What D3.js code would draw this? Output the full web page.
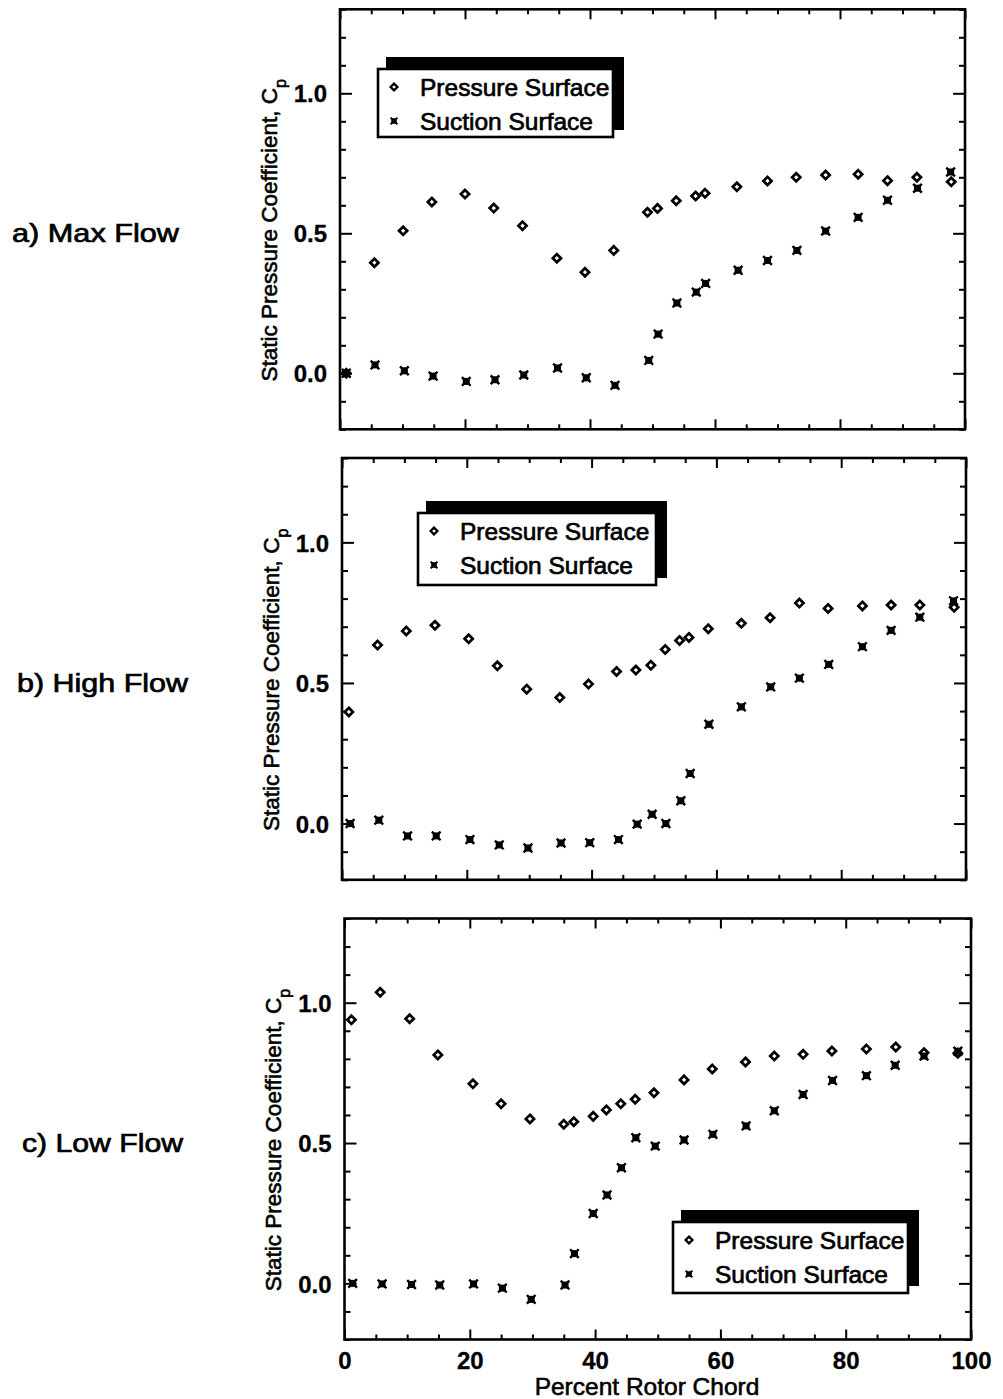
<!DOCTYPE html>
<html>
<head>
<meta charset="utf-8">
<script src="https://cdn.jsdelivr.net/npm/d3@7"></script>
<style>
  html, body { margin: 0; padding: 0; background: #fff; }
  svg { display: block; }
  text { font-family: "Liberation Sans", Arial, Helvetica, sans-serif; fill: #000; }
</style>
</head>
<body>
<svg id="chart" width="1003" height="1399"></svg>
<script>
// Static pressure coefficient Cp along the rotor chord, three flow conditions.
// Each series is a list of [percent chord, Cp].

const seriesNames = ["Pressure Surface", "Suction Surface"];
const panelTitles = ["a) Max Flow", "b) High Flow", "c) Low Flow"];

const maxFlowPressure = [
  [1.0, 0.000], [5.5, 0.395], [10.1, 0.509], [14.7, 0.612], [20.0, 0.640], [24.6, 0.590],
  [29.2, 0.527], [34.7, 0.411], [39.2, 0.361], [43.8, 0.439], [49.2, 0.575], [50.8, 0.589],
  [53.8, 0.616], [56.9, 0.633], [58.4, 0.643], [63.5, 0.666], [68.4, 0.687], [73.0, 0.700],
  [77.7, 0.708], [82.9, 0.711], [87.6, 0.688], [92.3, 0.700], [97.8, 0.684]
];
const maxFlowSuction = [
  [1.0, 0.000], [5.6, 0.030], [10.3, 0.009], [14.9, -0.010], [20.2, -0.029], [24.8, -0.023],
  [29.4, -0.006], [34.8, 0.019], [39.4, -0.016], [44.0, -0.043], [49.4, 0.046], [50.9, 0.140],
  [53.9, 0.251], [57.0, 0.290], [58.5, 0.321], [63.7, 0.368], [68.4, 0.403], [73.1, 0.439],
  [77.7, 0.508], [82.9, 0.557], [87.6, 0.618], [92.4, 0.661], [97.7, 0.719]
];

const highFlowPressure = [
  [1.1, 0.397], [5.7, 0.635], [10.3, 0.685], [14.9, 0.705], [20.3, 0.657], [24.9, 0.561],
  [29.6, 0.478], [34.9, 0.448], [39.5, 0.496], [44.0, 0.541], [47.1, 0.546], [49.5, 0.563],
  [51.8, 0.619], [54.1, 0.651], [55.6, 0.662], [58.7, 0.693], [64.0, 0.712], [68.6, 0.732],
  [73.3, 0.784], [77.9, 0.765], [83.4, 0.774], [88.0, 0.777], [92.6, 0.777], [98.1, 0.769]
];
const highFlowSuction = [
  [1.3, 0.000], [5.9, 0.012], [10.5, -0.044], [15.1, -0.044], [20.5, -0.057], [25.2, -0.076],
  [29.8, -0.087], [35.1, -0.069], [39.7, -0.068], [44.3, -0.057], [47.3, -0.002], [49.7, 0.033],
  [51.9, 0.000], [54.3, 0.081], [55.8, 0.178], [58.8, 0.353], [64.0, 0.415], [68.7, 0.486],
  [73.3, 0.517], [78.0, 0.566], [83.4, 0.629], [88.0, 0.687], [92.6, 0.734], [98.0, 0.792]
];

const lowFlowPressure = [
  [1.1, 0.939], [5.7, 1.037], [10.4, 0.943], [14.9, 0.814], [20.5, 0.711], [25.0, 0.640],
  [29.6, 0.586], [35.0, 0.567], [36.6, 0.576], [39.7, 0.595], [41.8, 0.618], [44.1, 0.640],
  [46.4, 0.656], [49.4, 0.679], [54.2, 0.725], [58.7, 0.764], [64.0, 0.789], [68.6, 0.810],
  [73.2, 0.816], [77.8, 0.828], [83.3, 0.835], [88.0, 0.842], [92.5, 0.822], [97.9, 0.820]
];
const lowFlowSuction = [
  [1.3, 0.000], [6.0, -0.002], [10.7, -0.004], [15.2, -0.006], [20.6, -0.002], [25.2, -0.017],
  [29.8, -0.057], [35.2, -0.006], [36.7, 0.106], [39.7, 0.249], [41.9, 0.315], [44.2, 0.412],
  [46.5, 0.519], [49.6, 0.489], [54.2, 0.511], [58.8, 0.531], [64.1, 0.561], [68.6, 0.615],
  [73.2, 0.673], [77.9, 0.723], [83.3, 0.740], [87.9, 0.777], [92.5, 0.810], [97.9, 0.827]
];

const xMajorTicks = [0, 20, 40, 60, 80, 100];
const xTickLabels = ["0", "20", "40", "60", "80", "100"];
const yMajorTicks = [0, 0.5, 1.0];
const yTickLabels = ["0.0", "0.5", "1.0"];
const xDomain = [0, 100];
const yDomain = [-0.2, 1.3];
const xAxisTitle = "Percent Rotor Chord";
const yAxisTitle = "Static Pressure Coefficient, ";

// Frame placement of each panel and of its legend box
const panels = [
  { title: panelTitles[0], pressure: maxFlowPressure, suction: maxFlowSuction,
    frame: { left: 340, right: 965, top: 9.3, bottom: 429.3 }, titleX: 12, titleW: 167,
    legend: { x: 378, y: 69, w: 235, h: 68 }, xLabels: false },
  { title: panelTitles[1], pressure: highFlowPressure, suction: highFlowSuction,
    frame: { left: 342, right: 966, top: 458, bottom: 879.8 }, titleX: 17, titleW: 171,
    legend: { x: 418, y: 513, w: 238, h: 72 }, xLabels: false },
  { title: panelTitles[2], pressure: lowFlowPressure, suction: lowFlowSuction,
    frame: { left: 344.5, right: 971, top: 918.5, bottom: 1339.5 }, titleX: 22, titleW: 161,
    legend: { x: 673, y: 1222, w: 235, h: 71 }, xLabels: true }
];

const svg = d3.select("#chart");
svg.append("rect").attr("width", 1003).attr("height", 1399).attr("fill", "#fff");

// Marker shapes: open diamond and a filled square crossed by an X
function diamondPath(r) {
  return `M0,${-r}L${r},0L0,${r}L${-r},0Z`;
}
function drawSuctionMark(g, s, w) {
  g.append("rect").attr("x", -s / 2).attr("y", -s / 2).attr("width", s).attr("height", s)
    .attr("fill", "#000");
  const c = s * 0.62;
  g.append("path").attr("d", `M${-c},${-c}L${c},${c}M${-c},${c}L${c},${-c}`)
    .attr("stroke", "#000").attr("stroke-width", w);
}
function drawPressureMark(g, r, w) {
  g.append("path").attr("d", diamondPath(r))
    .attr("fill", "#fff").attr("stroke", "#000").attr("stroke-width", w);
}

const tickFont = (sel) => sel.attr("font-size", 24).attr("font-weight", "bold")
  .attr("font-family", "'Liberation Sans', Arial, sans-serif")
  .attr("stroke", "#000").attr("stroke-width", 0.3);

panels.forEach((p) => {
  const f = p.frame;
  const x = d3.scaleLinear().domain(xDomain).range([f.left, f.right]);
  const y = d3.scaleLinear().domain(yDomain).range([f.bottom, f.top]);
  const g = svg.append("g");

  const yMinor = d3.range(-0.2, 1.3001, 0.1).map(v => +v.toFixed(1)).filter(v => !yMajorTicks.includes(v));
  const xMinor = d3.range(0, 100.001, 5).filter(v => !xMajorTicks.includes(v));

  const styleAxis = (sel) => {
    sel.select(".domain").remove();
    sel.selectAll(".tick line").attr("stroke", "#000").attr("stroke-width", 2);
  };

  // left / right ticks, pointing into the plot
  g.append("g").attr("transform", `translate(${f.left},0)`)
    .call(d3.axisLeft(y).tickValues(yMinor).tickSize(-6).tickFormat(""))
    .call(styleAxis);
  g.append("g").attr("transform", `translate(${f.left},0)`)
    .call(d3.axisLeft(y).tickValues(yMajorTicks).tickSize(-12).tickPadding(13)
      .tickFormat((d, i) => yTickLabels[i]))
    .call(styleAxis)
    .call(a => a.selectAll("text").call(tickFont).attr("dy", "0.36em"));
  g.append("g").attr("transform", `translate(${f.right},0)`)
    .call(d3.axisRight(y).tickValues(yMinor).tickSize(-6).tickFormat(""))
    .call(styleAxis);
  g.append("g").attr("transform", `translate(${f.right},0)`)
    .call(d3.axisRight(y).tickValues(yMajorTicks).tickSize(-12).tickFormat(""))
    .call(styleAxis);

  // top / bottom ticks
  g.append("g").attr("transform", `translate(0,${f.bottom})`)
    .call(d3.axisBottom(x).tickValues(xMinor).tickSize(-5).tickFormat(""))
    .call(styleAxis);
  g.append("g").attr("transform", `translate(0,${f.bottom})`)
    .call(d3.axisBottom(x).tickValues(xMajorTicks).tickSize(-10).tickPadding(12)
      .tickFormat((d, i) => p.xLabels ? xTickLabels[i] : ""))
    .call(styleAxis)
    .call(a => a.selectAll("text").call(tickFont).attr("dy", "0.72em"));
  g.append("g").attr("transform", `translate(0,${f.top})`)
    .call(d3.axisTop(x).tickValues(xMinor).tickSize(-5).tickFormat(""))
    .call(styleAxis);
  g.append("g").attr("transform", `translate(0,${f.top})`)
    .call(d3.axisTop(x).tickValues(xMajorTicks).tickSize(-10).tickFormat(""))
    .call(styleAxis);

  // frame
  g.append("rect")
    .attr("x", f.left).attr("y", f.top)
    .attr("width", f.right - f.left).attr("height", f.bottom - f.top)
    .attr("fill", "none").attr("stroke", "#000").attr("stroke-width", 2.6);

  // data marks
  const pts = g.append("g");
  p.pressure.forEach(d => {
    drawPressureMark(pts.append("g").attr("transform", `translate(${x(d[0])},${y(d[1])})`), 4.1, 2.7);
  });
  p.suction.forEach(d => {
    drawSuctionMark(pts.append("g").attr("transform", `translate(${x(d[0])},${y(d[1])})`), 7, 2.4);
  });

  // y-axis title, rotated
  const cy = (f.top + f.bottom) / 2 + 11;
  const yt = g.append("text")
    .attr("transform", `translate(${f.left - 71},${cy}) rotate(-90)`)
    .attr("text-anchor", "middle").attr("dy", "0.35em")
    .attr("font-size", 22.5).attr("stroke", "#000").attr("stroke-width", 0.6);
  yt.append("tspan").text(yAxisTitle);
  yt.append("tspan").text("C");
  yt.append("tspan").attr("font-size", 16).attr("baseline-shift", "sub").text("p");

  // panel title
  g.append("text")
    .attr("x", p.titleX).attr("y", y(0.5) + 9)
    .attr("font-size", 26).attr("stroke", "#000").attr("stroke-width", 0.7)
    .attr("textLength", p.titleW).attr("lengthAdjust", "spacingAndGlyphs")
    .text(p.title);

  // legend box with offset shadow
  const L = p.legend;
  const lg = g.append("g");
  lg.append("rect").attr("x", L.x + 8).attr("y", L.y - 12)
    .attr("width", L.w + 3).attr("height", L.h + 5).attr("fill", "#000");
  lg.append("rect").attr("x", L.x).attr("y", L.y).attr("width", L.w).attr("height", L.h)
    .attr("fill", "#fff").attr("stroke", "#000").attr("stroke-width", 2.6);
  const rows = [L.y + 18, L.y + 52];
  drawPressureMark(lg.append("g").attr("transform", `translate(${L.x + 16},${rows[0]})`), 3.4, 2.3);
  drawSuctionMark(lg.append("g").attr("transform", `translate(${L.x + 16},${rows[1]})`), 5.5, 2);
  seriesNames.forEach((name, i) => {
    lg.append("text").attr("x", L.x + 42).attr("y", rows[i]).attr("dy", "0.36em")
      .attr("font-size", 24.5).attr("stroke", "#000").attr("stroke-width", 0.7)
      .text(name);
  });
});

// shared x-axis title under the last panel
svg.append("text")
  .attr("x", 647).attr("y", 1395)
  .attr("text-anchor", "middle").attr("font-size", 24.5)
  .attr("stroke", "#000").attr("stroke-width", 0.6)
  .text(xAxisTitle);
</script>
</body>
</html>
